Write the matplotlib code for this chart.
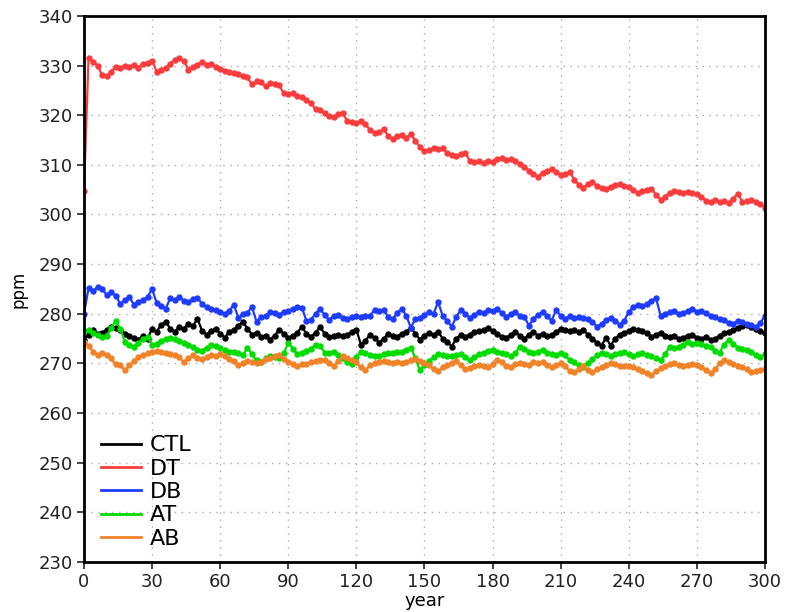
import matplotlib
matplotlib.use("Agg")
import matplotlib.pyplot as plt
import numpy as np

years = list(range(0, 301, 2))

ctl = [274.8, 275.8, 276.8, 276.0, 276.2, 276.8, 277.4, 277.2, 276.8, 276.0,
       275.6, 275.2, 274.8, 275.6, 275.0, 277.0, 276.4, 277.8, 278.4, 277.0,
       276.4, 277.4, 277.0, 278.0, 277.6, 279.0, 276.6, 275.8, 276.6, 277.0,
       276.0, 275.2, 276.4, 276.8, 277.6, 278.4, 277.0, 275.8, 276.2, 275.4,
       275.6, 274.8, 275.6, 276.8, 276.0, 275.2, 275.6, 276.2, 277.4, 276.0,
       275.4, 276.2, 277.4, 276.0, 275.4, 275.6, 275.8, 275.6, 275.8, 276.4,
       276.8, 273.8, 274.6, 275.8, 275.2, 274.2, 275.0, 276.0, 275.6, 275.4,
       276.0, 276.4, 277.2, 276.0, 274.8, 275.6, 276.2, 275.8, 276.4, 275.0,
       274.4, 273.4, 275.0, 275.8, 275.4, 275.8, 276.4, 276.6, 276.8, 277.2,
       276.6, 276.0, 275.4, 275.2, 275.8, 276.4, 275.6, 275.0, 275.8, 276.4,
       275.6, 276.0, 275.6, 275.8, 276.4, 277.0, 276.8, 276.6, 276.8, 276.4,
       276.8, 275.8, 275.0, 274.2, 273.6, 275.2, 273.6, 275.0, 275.8, 276.2,
       276.6, 277.0, 276.8, 276.6, 276.2, 275.4, 275.8, 276.2, 275.6, 275.4,
       275.6, 275.0, 275.2, 275.6, 275.8, 275.2, 275.0, 275.4, 274.8, 275.0,
       275.6, 276.2, 276.4, 276.8, 277.2, 277.6, 277.8, 277.4, 277.0, 276.6,
       276.2]

dt = [304.8, 331.5, 330.8, 330.0, 328.0, 327.8, 328.8, 329.8, 329.5, 330.0,
      329.8, 330.2, 329.6, 330.4, 330.6, 331.0, 328.8, 329.2, 329.5, 330.4,
      331.2, 331.6, 331.0, 329.2, 329.8, 330.2, 330.8, 330.2, 330.4, 329.8,
      329.4, 329.0, 328.8, 328.4, 328.2, 327.8, 327.6, 326.2, 326.8, 326.6,
      325.8, 326.4, 326.2, 326.0, 324.4, 324.2, 324.4, 323.8, 323.6, 323.0,
      322.4, 321.2, 321.0, 320.4, 319.8, 319.6, 320.2, 320.4, 318.8, 318.6,
      318.4, 318.8, 318.2, 317.0, 316.4, 316.6, 317.2, 315.8, 315.2, 315.8,
      316.0, 315.4, 316.2, 314.8, 313.6, 312.8, 313.0, 313.4, 313.2, 313.4,
      312.4, 312.0, 311.8, 312.2, 312.4, 310.8, 310.6, 310.8, 310.4, 310.8,
      310.6, 311.2, 311.4, 311.0, 311.2, 310.8, 310.2, 309.6, 308.8, 308.2,
      307.6, 308.4, 308.8, 309.2, 308.6, 308.0, 308.2, 308.6, 307.0, 306.0,
      305.4, 306.2, 306.6, 305.8, 305.4, 305.2, 305.6, 306.0, 306.2, 305.8,
      305.6, 305.0, 304.4, 304.8, 305.0, 305.2, 304.0, 303.0, 303.6, 304.4,
      304.8, 304.6, 304.4, 304.6, 304.4, 304.2, 303.6, 302.8, 302.6, 303.0,
      302.6, 302.8, 302.4, 303.2, 304.2, 302.6, 302.8, 303.0, 302.6, 302.2,
      301.4]

db = [280.0, 285.2, 284.6, 285.4, 285.0, 283.8, 284.4, 283.6, 282.0, 282.8,
      283.4, 281.8, 282.4, 282.8, 283.4, 285.0, 282.2, 281.6, 281.0, 283.2,
      282.8, 283.4, 282.6, 282.4, 283.0, 283.2, 282.0, 281.4, 281.0, 280.8,
      280.4, 280.0, 280.6, 281.8, 279.2, 280.0, 280.2, 281.4, 278.4, 279.4,
      279.6, 280.4, 280.2, 279.8, 280.4, 280.6, 281.0, 281.4, 281.2, 278.6,
      278.8, 280.0, 281.0, 279.8, 278.8, 279.6, 279.8, 279.2, 279.0, 279.4,
      279.6, 279.4, 279.5, 279.6, 280.8, 280.6, 280.8, 279.4, 279.0, 280.2,
      281.0, 279.6, 277.2, 279.0, 279.2, 279.8, 280.4, 280.0, 282.4, 279.6,
      278.6, 277.4, 279.4, 280.8, 280.0, 279.2, 279.8, 280.4, 280.2, 280.8,
      280.6, 281.0, 280.2, 279.4, 280.0, 280.4, 279.6, 279.4, 277.6, 279.0,
      279.8, 280.4, 279.6, 278.6, 280.8, 279.6, 279.0, 279.6, 279.2, 279.4,
      279.2, 279.0, 278.4, 277.4, 278.0, 278.8, 279.2, 278.6, 277.8, 278.6,
      280.4, 281.4, 281.8, 281.6, 282.0, 282.6, 283.2, 279.6, 280.0, 280.4,
      280.6, 280.0, 280.2, 280.6, 281.0, 280.4, 280.6, 280.2, 279.6, 279.4,
      279.0, 278.8, 278.2, 278.0, 278.6, 278.4, 278.0, 277.8, 277.4, 278.2,
      279.6]

at = [276.6, 276.8, 276.2, 275.8, 275.4, 275.6, 277.2, 278.6, 277.0, 274.4,
      273.8, 273.4, 274.2, 275.0, 275.4, 273.8, 274.0, 274.6, 275.0, 275.2,
      275.0, 274.6, 274.2, 273.8, 273.4, 272.8, 272.6, 273.2, 273.8, 273.6,
      273.2, 272.8, 272.4, 272.4, 272.0, 271.6, 273.2, 271.8, 270.6, 270.2,
      271.0, 271.4, 271.2, 271.0, 272.0, 274.2, 273.0, 271.8, 272.2, 272.6,
      273.0, 273.8, 273.6, 272.2, 272.2, 272.4, 271.6, 271.0, 270.2, 269.8,
      271.2, 272.4, 272.0, 271.6, 271.4, 271.4, 271.8, 272.0, 272.2, 272.4,
      272.4, 272.8, 273.2, 271.0, 268.6, 269.6, 270.4, 271.2, 271.8, 271.6,
      271.4, 271.4, 271.6, 271.8, 271.2, 270.6, 271.2, 271.8, 272.0, 272.6,
      272.8, 272.4, 272.0, 271.8, 271.4, 272.0, 273.4, 273.0, 272.4, 272.0,
      272.4, 272.8, 272.2, 271.8, 271.6, 272.2, 271.6, 270.6, 270.2, 269.6,
      269.2, 270.0, 270.8, 271.6, 272.2, 271.8, 271.4, 271.8, 272.2, 272.4,
      271.8, 271.4, 271.8, 272.2, 271.6, 271.4, 271.0, 270.6, 271.8, 273.4,
      273.2, 273.4, 273.8, 274.4, 274.0, 274.2, 274.0, 273.6, 273.4, 272.6,
      272.2, 273.8, 274.8, 274.0, 273.2, 273.0, 272.8, 272.4, 271.6, 271.2,
      271.8]

ab = [274.4, 273.6, 272.4, 271.6, 272.2, 271.6, 271.0, 269.8, 269.6, 268.6,
      269.6, 270.4, 271.2, 271.6, 272.0, 272.4, 272.6, 272.4, 272.0, 271.8,
      271.6, 271.2, 270.2, 271.0, 271.6, 271.0, 270.8, 271.2, 271.6, 271.4,
      271.8, 271.4, 270.8, 270.4, 269.6, 270.0, 270.4, 270.2, 270.0, 270.2,
      270.8, 271.0, 271.4, 271.6, 270.8, 270.2, 269.8, 269.4, 269.8, 269.8,
      270.2, 270.4, 270.6, 270.6, 270.0, 269.4, 270.4, 271.4, 271.0, 270.6,
      270.2, 269.2, 268.6, 269.6, 270.0, 270.2, 270.4, 270.2, 270.0, 270.2,
      270.0, 270.2, 270.6, 270.8, 270.4, 270.0, 269.6, 268.8, 268.4, 269.2,
      269.6, 270.0, 270.4, 269.6, 268.8, 269.0, 269.4, 269.6, 269.4, 269.2,
      269.8, 270.6, 270.2, 269.4, 269.2, 269.8, 270.0, 269.8, 269.6, 270.2,
      270.0, 270.2, 269.6, 269.2, 269.6, 270.0, 269.4, 268.4, 268.2, 268.8,
      269.4, 268.6, 268.2, 268.8, 269.2, 269.6, 270.0, 269.8, 269.4, 269.4,
      269.4, 269.2, 268.8, 268.4, 268.0, 267.6, 268.4, 269.0, 269.4, 269.8,
      270.0, 269.6, 269.4, 269.6, 269.8, 269.6, 269.2, 268.6, 268.0, 268.8,
      270.0, 270.6, 270.2, 269.8, 269.4, 269.2, 268.8, 268.2, 268.4, 268.6,
      268.8]

series_names = ["CTL", "DT", "DB", "AT", "AB"]
series_values = [ctl, dt, db, at, ab]
series_colors = ["#000000", "#fa3c3c", "#1e3cff", "#00dc00", "#f08228"]

x_ticks = [0, 30, 60, 90, 120, 150, 180, 210, 240, 270, 300]
y_ticks = [230, 240, 250, 260, 270, 280, 290, 300, 310, 320, 330, 340]

fig = plt.figure(figsize=(7.85, 6.12), dpi=100)
ax = fig.add_axes([0.107, 0.0817, 0.8675, 0.8923])

for name, vals, col in zip(series_names, series_values, series_colors):
    ax.plot(years, vals, color=col, lw=1.6, marker="o", ms=4.6,
            markeredgewidth=0, label=name)

ax.set_xlim(0, 300)
ax.set_ylim(230, 340)
ax.set_xticks(x_ticks)
ax.set_yticks(y_ticks)
ax.grid(True, linestyle=(0, (1, 4)), color="#aaaaaa", lw=1.0)
ax.set_axisbelow(True)
for sp in ax.spines.values():
    sp.set_linewidth(2.0)
ax.tick_params(direction="out", length=5, width=1.2, labelsize=13,
               colors="#222222", pad=3)
ax.set_xlabel("year", fontsize=13, labelpad=1)
ax.set_ylabel("ppm", fontsize=12, labelpad=8)

leg = ax.legend(loc="lower left", bbox_to_anchor=(0.005, 0.0), frameon=False,
                fontsize=16, handlelength=1.8, handletextpad=0.4,
                labelspacing=0.15, borderaxespad=0.2, markerscale=0)
for line in leg.get_lines():
    line.set_linewidth(2.0)

fig.savefig("out.png", dpi=100)
